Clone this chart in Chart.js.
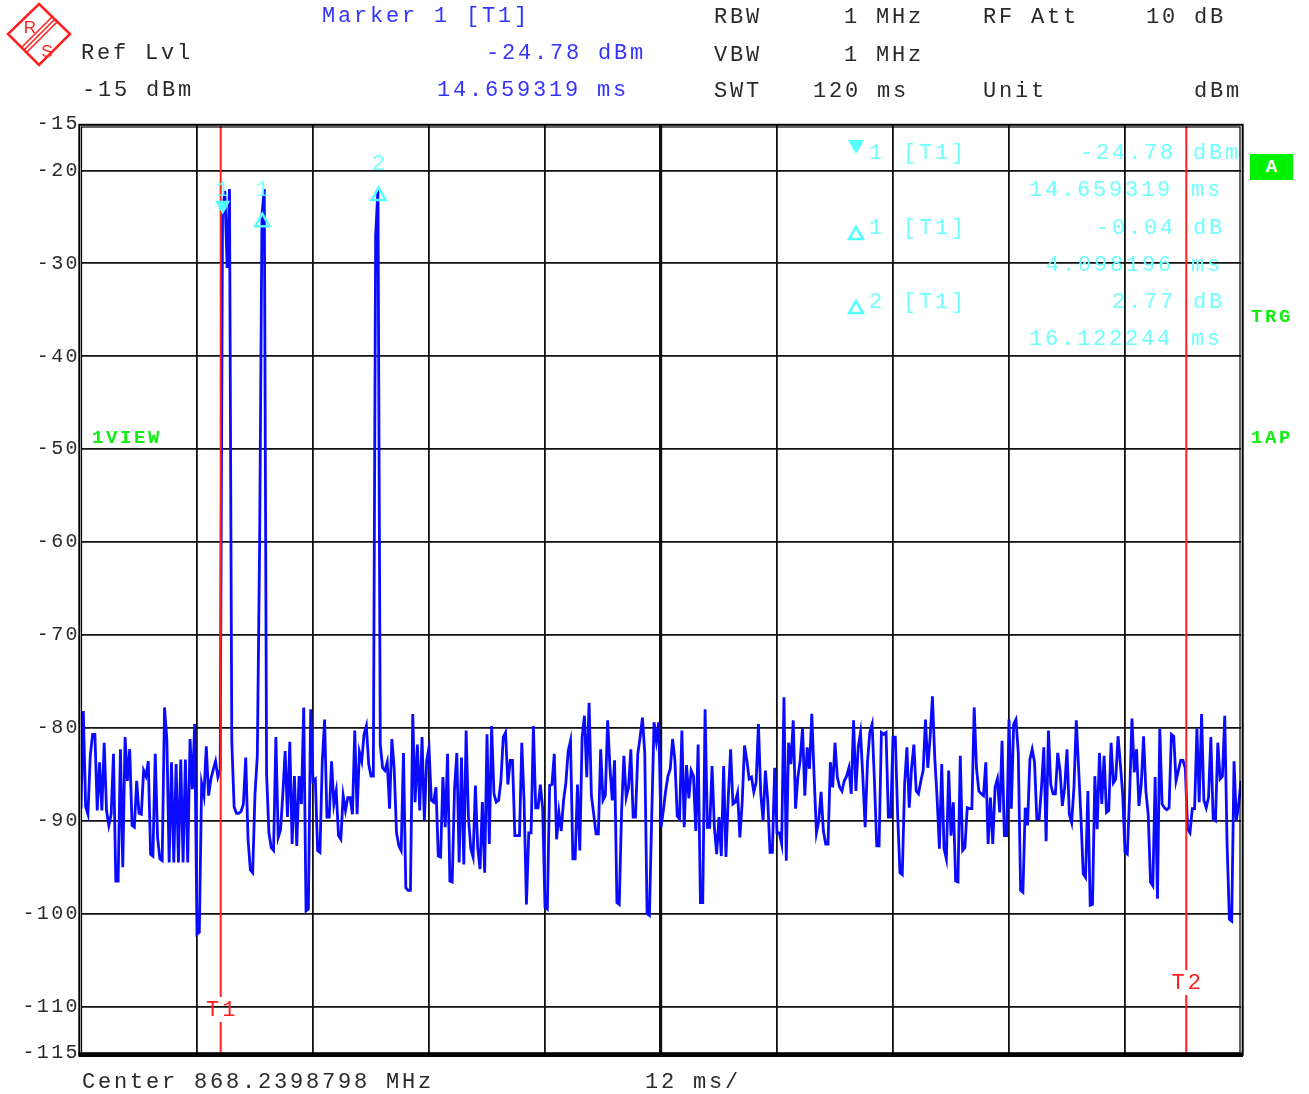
<!DOCTYPE html>
<html lang="en">

<head>
    <meta charset="UTF-8">
    <meta name="viewport" content="width=device-width, initial-scale=1.0">
    <title>Marker 1 [T1]</title>

    <style>
        body {
            margin: 0;
            background: #fff;
        }

        #wrap {
            position: relative;
            width: 1309px;
            height: 1094px;
            overflow: hidden;
        }

        #chart {
            position: absolute;
            left: 0;
            top: 0;
        }

        .t {
            position: absolute;
            z-index: 2;
            font-family: 'Liberation Mono', monospace;
            font-size: 22px;
            line-height: 22px;
            letter-spacing: 2.8px;
            white-space: pre;
            color: #2a2a2a;
        }

        .blue {
            color: #3333ff;
        }

        .cyan {
            color: #70ffff;
        }

        .g {
            position: absolute;
            z-index: 2;
            font-family: 'Liberation Mono', monospace;
            font-weight: bold;
            font-size: 19px;
            line-height: 19px;
            letter-spacing: 2.6px;
            white-space: pre;
            color: #11ee11;
        }

        .abox {
            position: absolute;
            z-index: 2;
            left: 1250px;
            top: 154px;
            width: 43px;
            height: 26px;
            background: #00f000;
            color: #fff;
            font-family: 'Liberation Mono', monospace;
            font-weight: bold;
            font-size: 19px;
            line-height: 26px;
            text-align: center;
        }

        .sym {
            position: absolute;
            z-index: 2;
        }
    </style>

</head>

<body>

    <div id="wrap">
        <canvas id="chart" width="1309" height="1094"></canvas>

        <svg class="sym" style="left:0;top:0" width="80" height="72">
            <polygon points="39,4 70,34 39,65 8,34" fill="none" stroke="#ff2020" stroke-width="2.5" />
            <g stroke="#ff2020" stroke-width="1.6">
                <line x1="52" y1="17" x2="22" y2="47" />
                <line x1="54.5" y1="19.5" x2="24.5" y2="49.5" />
                <line x1="57" y1="22" x2="27" y2="52" />
            </g>
            <text x="30" y="33" fill="#ff2020" font-family="Liberation Sans" font-size="17" text-anchor="middle">R</text>
            <text x="47" y="57" fill="#ff2020" font-family="Liberation Sans" font-size="17" text-anchor="middle">S</text>
        </svg>

        <!-- header -->
        <div class="t blue" style="left:322px;top:6px">Marker 1 [T1]</div>
        <div class="t" style="left:714px;top:7px">RBW</div>
        <div class="t" style="left:844px;top:7px">1 MHz</div>
        <div class="t" style="left:983px;top:7px">RF Att</div>
        <div class="t" style="left:1146px;top:7px">10 dB</div>

        <div class="t" style="left:81px;top:43px">Ref Lvl</div>
        <div class="t blue" style="left:486px;top:43px">-24.78 dBm</div>
        <div class="t" style="left:714px;top:45px">VBW</div>
        <div class="t" style="left:844px;top:45px">1 MHz</div>

        <div class="t" style="left:82px;top:80px">-15 dBm</div>
        <div class="t blue" style="left:437px;top:80px">14.659319 ms</div>
        <div class="t" style="left:714px;top:81px">SWT</div>
        <div class="t" style="left:813px;top:81px">120 ms</div>
        <div class="t" style="left:983px;top:81px">Unit</div>
        <div class="t" style="left:1194px;top:81px">dBm</div>

        <!-- marker table -->
        <svg class="sym" style="left:847px;top:139px" width="18" height="16">
            <polygon points="1,1 17,1 9,15" fill="#55ffff" />
        </svg>
        <div class="t cyan" style="left:869px;top:143px">1</div>
        <div class="t cyan" style="left:903px;top:143px">[T1]</div>
        <div class="t cyan" style="left:1080px;top:143px">-24.78</div>
        <div class="t cyan" style="left:1193px;top:143px">dBm</div>
        <div class="t cyan" style="left:1029px;top:180px">14.659319</div>
        <div class="t cyan" style="left:1191px;top:180px">ms</div>

        <svg class="sym" style="left:847px;top:225px" width="18" height="16">
            <polygon points="9,2 16,14 2,14" fill="none" stroke="#55ffff" stroke-width="2.5" />
        </svg>
        <div class="t cyan" style="left:869px;top:218px">1</div>
        <div class="t cyan" style="left:903px;top:218px">[T1]</div>
        <div class="t cyan" style="left:1096px;top:218px">-0.04</div>
        <div class="t cyan" style="left:1193px;top:218px">dB</div>
        <div class="t cyan" style="left:1046px;top:255px">4.098196</div>
        <div class="t cyan" style="left:1191px;top:255px">ms</div>

        <svg class="sym" style="left:847px;top:299px" width="18" height="16">
            <polygon points="9,2 16,14 2,14" fill="none" stroke="#55ffff" stroke-width="2.5" />
        </svg>
        <div class="t cyan" style="left:869px;top:292px">2</div>
        <div class="t cyan" style="left:903px;top:292px">[T1]</div>
        <div class="t cyan" style="left:1112px;top:292px">2.77</div>
        <div class="t cyan" style="left:1193px;top:292px">dB</div>
        <div class="t cyan" style="left:1029px;top:329px">16.122244</div>
        <div class="t cyan" style="left:1191px;top:329px">ms</div>

        <!-- side labels -->
        <div class="abox">A</div>
        <div class="g" style="left:1251px;top:308px">TRG</div>
        <div class="g" style="left:1251px;top:429px">1AP</div>
        <div class="g" style="left:92px;top:429px">1VIEW</div>

        <!-- footer -->
        <div class="t" style="left:82px;top:1072px">Center 868.2398798 MHz</div>
        <div class="t" style="left:645px;top:1072px">12 ms/</div>
    </div>

    <script src="https://cdn.jsdelivr.net/npm/chart.js@4.4.3/dist/chart.umd.min.js"></script>

    <script>
        // sweep: 501 trace points over 120 ms (12 ms/div)
        const SWEEP_MS = 120

        // trace 1 level, dBm, one value per sweep point
        const levels = [
            // div 0
            -88.7, -78.2, -88.5, -89.3, -83.0, -80.7, -80.7, -88.9, -83.7, -88.9,
            -81.6, -88.9, -90.5, -89.3, -82.8, -96.5, -96.5, -82.3, -95.0, -81.0,
            -85.7, -82.3, -90.5, -90.7, -85.7, -89.2, -89.3, -84.6, -85.2, -83.6,
            -93.6, -93.8, -82.8, -91.8, -94.1, -94.3, -77.8, -81.2, -94.5, -83.7,
            -94.5, -83.9, -94.5, -83.4, -94.5, -83.4, -94.5, -81.2, -86.6, -79.6,
            // div 1
            -102.2, -102.0, -86.0, -87.3, -82.0, -87.3, -85.5, -84.5, -83.6, -85.3,
            -84.5, -24.8, -22.2, -30.5, -22.0, -81.5, -88.5, -89.2, -89.2, -89.0,
            -88.2, -83.2, -92.0, -95.3, -95.6, -87.1, -83.0, -60.0, -24.8, -22.0,
            -85.0, -91.3, -92.9, -93.2, -81.0, -91.8, -91.0, -87.1, -82.5, -89.6,
            -81.5, -92.5, -85.2, -92.7, -85.2, -88.2, -77.8, -99.7, -99.5, -78.0,
            // div 2
            -85.7, -85.5, -93.2, -93.4, -83.6, -79.1, -89.6, -89.6, -83.6, -88.2,
            -86.8, -91.6, -92.0, -87.3, -88.9, -87.5, -87.5, -89.3, -80.3, -89.3,
            -82.6, -83.6, -80.7, -79.8, -83.9, -85.2, -85.2, -27.0, -22.0, -81.8,
            -84.3, -84.6, -83.7, -88.7, -81.2, -84.4, -91.3, -92.7, -93.2, -82.7,
            -97.2, -97.5, -97.5, -78.5, -88.0, -81.8, -88.9, -81.0, -90.0, -83.5,
            // div 3
            -82.1, -87.8, -88.0, -86.4, -93.8, -93.9, -85.3, -90.7, -82.8, -96.5,
            -96.6, -86.6, -82.7, -94.5, -83.2, -94.7, -80.3, -89.6, -93.0, -93.9,
            -86.2, -92.9, -95.2, -88.0, -95.6, -80.7, -92.5, -79.8, -87.1, -88.0,
            -87.8, -85.7, -81.0, -80.5, -86.1, -83.5, -83.5, -91.6, -91.6, -91.6,
            -81.6, -88.0, -99.0, -91.3, -91.3, -79.8, -88.6, -88.6, -86.1, -88.7,
            // div 4
            -99.3, -99.5, -86.2, -86.1, -82.8, -92.0, -89.1, -91.1, -87.8, -85.9,
            -82.5, -81.4, -94.1, -94.1, -86.1, -93.2, -81.0, -78.7, -85.3, -77.3,
            -87.3, -89.3, -91.4, -91.4, -82.3, -87.8, -87.3, -79.2, -84.3, -87.8,
            -83.5, -98.8, -99.0, -89.1, -83.0, -87.5, -86.4, -82.3, -89.6, -89.6,
            -82.8, -81.0, -78.9, -82.7, -100.0, -100.2, -89.6, -79.4, -81.4, -79.4,
            // div 5
            -90.7, -88.9, -86.8, -85.2, -84.4, -81.2, -83.5, -89.5, -89.8, -80.3,
            -90.7, -84.0, -87.6, -84.6, -85.2, -91.1, -81.8, -98.8, -98.8, -78.0,
            -90.7, -90.7, -84.1, -90.7, -93.6, -89.6, -93.8, -84.1, -93.9, -87.5,
            -82.3, -88.2, -88.0, -87.0, -91.8, -88.0, -81.9, -83.5, -85.5, -85.3,
            -86.9, -85.9, -79.6, -87.1, -90.0, -84.6, -87.8, -93.4, -93.4, -84.3,
            // div 6
            -91.3, -91.3, -92.5, -76.7, -94.3, -81.6, -83.9, -79.2, -88.7, -85.3,
            -83.5, -80.0, -87.3, -82.1, -84.4, -78.5, -85.2, -91.3, -90.0, -86.9,
            -91.1, -92.5, -92.5, -83.7, -86.4, -81.6, -85.3, -86.4, -86.8, -85.7,
            -85.2, -84.3, -87.1, -79.2, -86.8, -82.1, -80.5, -85.3, -90.7, -83.7,
            -80.5, -79.6, -85.7, -92.7, -92.7, -80.5, -80.7, -80.5, -89.6, -89.6,
            // div 7
            -81.0, -81.0, -89.3, -95.6, -95.8, -86.1, -82.1, -88.6, -84.3, -81.8,
            -86.8, -87.1, -85.7, -84.6, -79.1, -84.3, -81.0, -76.6, -83.2, -87.5,
            -93.0, -83.9, -93.0, -94.1, -84.6, -91.6, -88.0, -96.5, -96.6, -83.0,
            -93.2, -92.9, -88.6, -88.7, -88.7, -77.8, -84.4, -86.8, -87.1, -87.3,
            -83.7, -92.5, -87.5, -92.5, -86.4, -85.5, -89.1, -81.4, -91.6, -91.6,
            // div 8
            -79.1, -88.7, -79.6, -79.1, -82.7, -97.5, -97.7, -88.6, -90.5, -83.4,
            -82.3, -83.7, -89.8, -89.8, -86.4, -82.1, -92.2, -80.3, -86.1, -87.1,
            -87.1, -82.7, -84.6, -88.4, -86.4, -82.3, -89.3, -90.2, -86.4, -79.2,
            -84.3, -89.6, -95.7, -96.1, -86.8, -99.1, -99.0, -85.2, -90.9, -82.7,
            -88.2, -83.0, -89.1, -88.9, -81.6, -85.9, -85.5, -80.9, -83.9, -87.1,
            // div 9
            -93.4, -93.6, -87.2, -79.0, -84.8, -82.3, -88.4, -86.1, -80.9, -86.8,
            -89.3, -96.6, -97.0, -85.3, -98.4, -80.1, -88.2, -88.6, -88.8, -88.6,
            -80.7, -80.9, -85.7, -84.6, -83.5, -83.5, -84.4, -90.9, -91.3, -88.7,
            -88.7, -80.1, -88.0, -78.5, -87.8, -88.6, -87.5, -81.0, -89.8, -90.0,
            -81.6, -85.5, -85.2, -78.7, -92.5, -100.6, -100.8, -83.6, -90.0, -88.2,
            -85.7
        ]

        const yTicks = [-15, -20, -30, -40, -50, -60, -70, -80, -90, -100, -110, -115]
        const timeGrid = [0, 12, 24, 36, 48, 60, 72, 84, 96, 108, 120]

        // markers: 1 = reference, delta 1 / delta 2 relative to it
        const markerNames = ['1', '1', '2']
        const markerTypes = ['ref', 'delta', 'delta']
        const markerTimes = [14.659319, 18.757515, 30.781563]
        const markerLevels = [-24.78, -24.82, -22.01]

        // time lines
        const timeLineNames = ['T1', 'T2']
        const timeLineTimes = [14.45, 114.34]

        const step = SWEEP_MS / (levels.length - 1)
        const trace = levels.map((v, i) => ({ x: i * step, y: v }))

        const overlay = {
            id: 'overlay',
            beforeDraw(chart) {
                chart.ctx.letterSpacing = '2.4px'
            },
            afterDatasetsDraw(chart) {
                const { ctx, chartArea: area } = chart
                const x = chart.scales.x
                const y = chart.scales.y
                ctx.save()

                // T1 / T2
                const rise = [43, 70]
                ctx.strokeStyle = '#ff2020'
                ctx.fillStyle = '#ff2020'
                ctx.lineWidth = 2
                ctx.letterSpacing = '3px'
                ctx.font = '22px "Liberation Mono"'
                ctx.textAlign = 'center'
                ctx.textBaseline = 'middle'
                timeLineNames.forEach((name, i) => {
                    const px = x.getPixelForValue(timeLineTimes[i])
                    const ly = area.bottom - rise[i]
                    ctx.beginPath()
                    ctx.moveTo(px, area.top + 2)
                    ctx.lineTo(px, ly - 13)
                    ctx.moveTo(px, ly + 12)
                    ctx.lineTo(px, area.bottom)
                    ctx.stroke()
                    ctx.fillText(name, px + 1.5, ly)
                })

                // marker symbols
                ctx.letterSpacing = '0px'
                markerTimes.forEach((t, i) => {
                    const px = x.getPixelForValue(t)
                    const py = y.getPixelForValue(markerLevels[i])
                    ctx.fillStyle = '#55ffff'
                    ctx.strokeStyle = '#55ffff'
                    ctx.lineWidth = 2.5
                    ctx.beginPath()
                    if (markerTypes[i] === 'ref') {
                        ctx.moveTo(px - 7.5, py - 14)
                        ctx.lineTo(px + 7.5, py - 14)
                        ctx.lineTo(px, py)
                        ctx.closePath()
                        ctx.fill()
                    } else {
                        ctx.moveTo(px, py - 1.5)
                        ctx.lineTo(px + 7, py + 11)
                        ctx.lineTo(px - 7, py + 11)
                        ctx.closePath()
                        ctx.stroke()
                    }
                    ctx.fillStyle = 'rgba(110,255,255,0.9)'
                    ctx.fillText(markerNames[i], px, py - 25)
                })
                ctx.restore()
            },
            afterDraw(chart) {
                const { ctx, chartArea: a } = chart
                ctx.save()
                ctx.strokeStyle = '#000'
                ctx.lineWidth = 2
                ctx.strokeRect(a.left - 1.7, a.top + 0.8, a.right - a.left + 3.4, a.bottom - a.top + 1)
                ctx.lineWidth = 1.2
                ctx.strokeRect(a.left + 0.5, a.top + 3, a.right - a.left - 1.5, a.bottom - a.top - 3)
                ctx.fillStyle = '#000'
                ctx.fillRect(a.left - 2.5, a.bottom - 0.5, a.right - a.left + 4.5, 4.5)
                ctx.restore()
                ctx.letterSpacing = '0px'
            }
        }

        const edge = (v, lo, hi) => v === lo || v === hi

        new Chart(document.getElementById('chart'), {
            type: 'line',
            data: {
                datasets: [{
                    label: 'Trace 1',
                    data: trace,
                    borderColor: '#0a0aff',
                    borderWidth: 2.8,
                    pointRadius: 0,
                    tension: 0,
                    fill: false,
                }],
            },
            options: {
                responsive: false,
                animation: false,
                events: [],
                layout: { padding: { top: 124, right: 68, bottom: 0, left: 0 } },
                plugins: {
                    legend: { display: false },
                    tooltip: { enabled: false },
                },
                scales: {
                    x: {
                        type: 'linear',
                        min: 0,
                        max: SWEEP_MS,
                        afterBuildTicks: (s) => { s.ticks = timeGrid.map(v => ({ value: v })) },
                        afterFit: (s) => { s.height = 41 },
                        ticks: { display: false },
                        border: { display: false },
                        grid: {
                            drawTicks: false,
                            color: (c) => edge(c.tick.value, 0, SWEEP_MS) ? 'rgba(0,0,0,0)' : '#111',
                            lineWidth: (c) => c.tick.value === 60 ? 3.2 : 1.8,
                        },
                    },
                    y: {
                        min: -115,
                        max: -15,
                        afterBuildTicks: (s) => { s.ticks = yTicks.map(v => ({ value: v })) },
                        afterFit: (s) => { s.width = 81 },
                        ticks: {
                            autoSkip: false,
                            padding: 1,
                            color: '#2a2a2a',
                            font: { family: 'Liberation Mono', size: 20 },
                        },
                        border: { display: false },
                        grid: {
                            drawTicks: false,
                            color: (c) => edge(c.tick.value, -115, -15) ? 'rgba(0,0,0,0)' : '#111',
                            lineWidth: 1.8,
                        },
                    },
                },
            },
            plugins: [overlay],
        })
    </script>

</body>

</html>
